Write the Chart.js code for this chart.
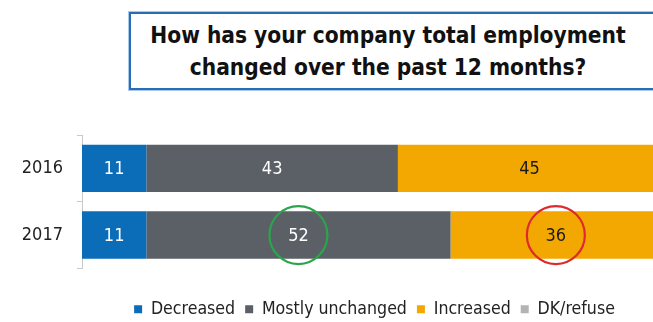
<!DOCTYPE html>
<html lang="en">

<head>
    <meta charset="UTF-8">
    <title>Company employment</title>
    <script src="https://cdn.jsdelivr.net/npm/chart.js"></script>
    <style>
        html, body {
            margin: 0;
            padding: 0;
            width: 653px;
            height: 322px;
            overflow: hidden;
            background: #ffffff;
            font-family: "DejaVu Sans Condensed", "DejaVu Sans", sans-serif;
        }

        .tituloBox {
            position: absolute;
            left: 129px;
            top: 12px;
            width: 600px;
            height: 78px;
            border: 2px solid #2a6db4;
            box-shadow: 0 0 0 1px #a8c9ea;
            padding-right: 82px;
            box-sizing: border-box;
            text-align: center;
            font-weight: bold;
            font-size: 22.5px;
            line-height: 32px;
            padding-top: 5px;
            color: #111;
        }

        .graficoArea {
            position: absolute;
            left: 0;
            top: 0;
            width: 670px;
            height: 328px;
        }
    </style>
</head>

<body>

    <div class="tituloBox">How has your company total employment<br>changed over the past 12 months?</div>

    <div class="graficoArea">
        <canvas id="graficoEmprego"></canvas>
    </div>

<script>

    // dados
    const anos = ['2016', '2017'];
    const diminuiu = [11, 11];
    const semMudanca = [43, 52];
    const aumentou = [45, 36];
    const naoSabe = [1, 1];

    // valores circulados: [serie, indice, cor]
    const destaques = [
        [1, 1, '#2aa54c'],
        [2, 1, '#de2a2e']
    ];

    const corTexto = ['#ffffff', '#ffffff', '#1a1a1a', '#1a1a1a'];
    const fonte = '"DejaVu Sans Condensed", "DejaVu Sans", sans-serif';

    // escreve o valor no meio de cada barra
    const rotulosPlugin = {
        id: 'rotulos',
        afterDatasetsDraw(chart) {
            const ctx = chart.ctx;
            ctx.save();
            ctx.font = '18px ' + fonte;
            ctx.textAlign = 'center';
            ctx.textBaseline = 'middle';
            chart.data.datasets.forEach(function (ds, i) {
                if (i == 3) return;
                chart.getDatasetMeta(i).data.forEach(function (barra, j) {
                    const pos = barra.getCenterPoint();
                    ctx.fillStyle = corTexto[i];
                    ctx.fillText(ds.data[j], pos.x, pos.y + 1);
                });
            });

            destaques.forEach(function (d) {
                const barra = chart.getDatasetMeta(d[0]).data[d[1]];
                const pos = barra.getCenterPoint();
                ctx.beginPath();
                ctx.strokeStyle = d[2];
                ctx.lineWidth = 2.2;
                ctx.arc(pos.x, pos.y, 29, 0, Math.PI * 2);
                ctx.stroke();
            });
            ctx.restore();
        }
    };

    Chart.defaults.font.family = fonte;
    Chart.defaults.color = '#1a1a1a';

    const grafico = new Chart(document.getElementById('graficoEmprego'), {
        type: 'bar',
        data: {
            labels: anos,
            datasets: [
                { label: 'Decreased', data: diminuiu, backgroundColor: '#0b6cb8' },
                { label: 'Mostly unchanged', data: semMudanca, backgroundColor: '#5b5f66' },
                { label: 'Increased', data: aumentou, backgroundColor: '#f2a800' },
                { label: 'DK/refuse', data: naoSabe, backgroundColor: '#b4b4b4' }
            ]
        },
        options: {
            indexAxis: 'y',
            responsive: true,
            maintainAspectRatio: false,
            animation: false,
            barPercentage: 0.71,
            categoryPercentage: 1,
            layout: {
                padding: { top: 135, right: 3, bottom: 0, left: 0 }
            },
            scales: {
                x: {
                    display: false,
                    stacked: true,
                    min: 0,
                    max: 100
                },
                y: {
                    stacked: true,
                    afterFit: function (eixo) {
                        eixo.width = 82;
                    },
                    border: { color: '#c9c9c9', width: 1 },
                    grid: {
                        offset: true,
                        drawOnChartArea: false,
                        tickLength: 5,
                        color: '#c9c9c9'
                    },
                    ticks: {
                        padding: 14,
                        color: '#222',
                        font: { size: 18 }
                    }
                }
            },
            plugins: {
                legend: {
                    position: 'bottom',
                    align: 'center',
                    fullSize: false,
                    title: {
                        display: true,
                        text: '',
                        font: { size: 10 },
                        padding: { top: 0, bottom: 10 }
                    },
                    labels: {
                        boxWidth: 8,
                        boxHeight: 8,
                        padding: 10,
                        color: '#222',
                        font: { size: 17.6 }
                    }
                },
                tooltip: { enabled: false }
            }
        },
        plugins: [rotulosPlugin]
    });

</script>

</body>

</html>
